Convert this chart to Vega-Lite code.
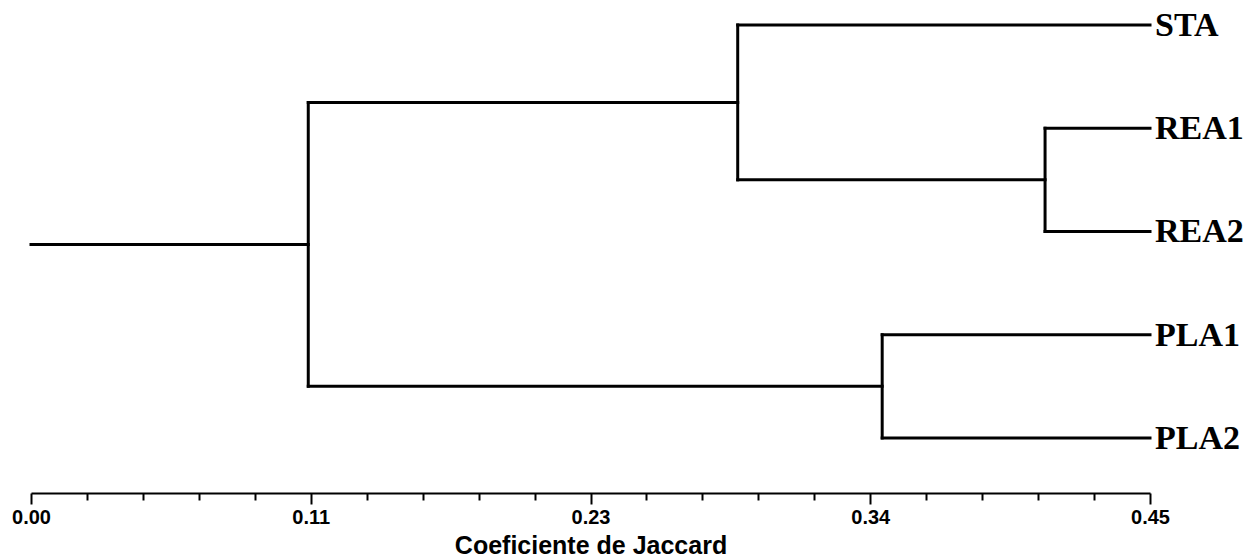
{
  "$schema": "https://vega.github.io/schema/vega-lite/v6.json",
  "width": 1119,
  "height": 493,
  "autosize": {"type": "none"},
  "padding": {"left": 31, "top": 0, "right": 106, "bottom": 67},
  "background": "white",
  "config": {"view": {"stroke": null}},
  "datasets": {
    "segments": [
      {"x": 0, "x2": 0.1115, "y": 2.125, "y2": 2.125},
      {"x": 0.1115, "x2": 0.1115, "y": 0.75, "y2": 3.5},
      {"x": 0.1115, "x2": 0.2842, "y": 0.75, "y2": 0.75},
      {"x": 0.2842, "x2": 0.2842, "y": 0, "y2": 1.5},
      {"x": 0.2842, "x2": 0.45, "y": 0, "y2": 0},
      {"x": 0.2842, "x2": 0.4078, "y": 1.5, "y2": 1.5},
      {"x": 0.4078, "x2": 0.4078, "y": 1, "y2": 2},
      {"x": 0.4078, "x2": 0.45, "y": 1, "y2": 1},
      {"x": 0.4078, "x2": 0.45, "y": 2, "y2": 2},
      {"x": 0.1115, "x2": 0.3423, "y": 3.5, "y2": 3.5},
      {"x": 0.3423, "x2": 0.3423, "y": 3, "y2": 4},
      {"x": 0.3423, "x2": 0.45, "y": 3, "y2": 3},
      {"x": 0.3423, "x2": 0.45, "y": 4, "y2": 4}
    ],
    "leaves": [
      {"name": "STA", "x": 0.45, "y": 0},
      {"name": "REA1", "x": 0.45, "y": 1},
      {"name": "REA2", "x": 0.45, "y": 2},
      {"name": "PLA1", "x": 0.45, "y": 3},
      {"name": "PLA2", "x": 0.45, "y": 4}
    ]
  },
  "layer": [
    {
      "data": {"name": "segments"},
      "mark": {"type": "rule", "color": "black", "strokeWidth": 3, "strokeCap": "square"},
      "encoding": {
        "x": {
          "field": "x",
          "type": "quantitative",
          "scale": {"domain": [0, 0.45], "nice": false, "zero": false},
          "axis": {
            "title": "Coeficiente de Jaccard",
            "titleFont": "Liberation Sans",
            "titleFontSize": 25,
            "titleFontWeight": "bold",
            "titleColor": "black",
            "titlePadding": 6,
            "values": [0, 0.0225, 0.045, 0.0675, 0.09, 0.1125, 0.135, 0.1575, 0.18, 0.2025, 0.225, 0.2475, 0.27, 0.2925, 0.315, 0.3375, 0.36, 0.3825, 0.405, 0.4275, 0.45],
            "format": ".2f",
            "labelExpr": "abs(datum.value/0.1125 - round(datum.value/0.1125)) < 0.01 ? datum.label : ''",
            "labelFont": "Liberation Sans",
            "labelFontSize": 20,
            "labelFontWeight": "bold",
            "labelColor": "black",
            "labelPadding": 3,
            "labelFlush": false,
            "labelOverlap": false,
            "domainColor": "black",
            "domainWidth": 2,
            "tickColor": "black",
            "tickWidth": 2,
            "tickSize": {"condition": {"test": "abs(datum.value/0.1125 - round(datum.value/0.1125)) < 0.01", "value": 11}, "value": 7},
            "grid": false
          }
        },
        "x2": {"field": "x2"},
        "y": {
          "field": "y",
          "type": "quantitative",
          "scale": {"domain": [-0.242, 4.533], "nice": false, "zero": false, "reverse": true},
          "axis": null
        },
        "y2": {"field": "y2"}
      }
    },
    {
      "data": {"name": "leaves"},
      "mark": {"type": "text", "align": "left", "baseline": "middle", "dx": 5, "dy": 1, "font": "Liberation Serif", "fontSize": 34, "fontWeight": "bold", "color": "black", "clip": false},
      "encoding": {
        "x": {"field": "x", "type": "quantitative"},
        "y": {"field": "y", "type": "quantitative"},
        "text": {"field": "name"}
      }
    }
  ]
}
